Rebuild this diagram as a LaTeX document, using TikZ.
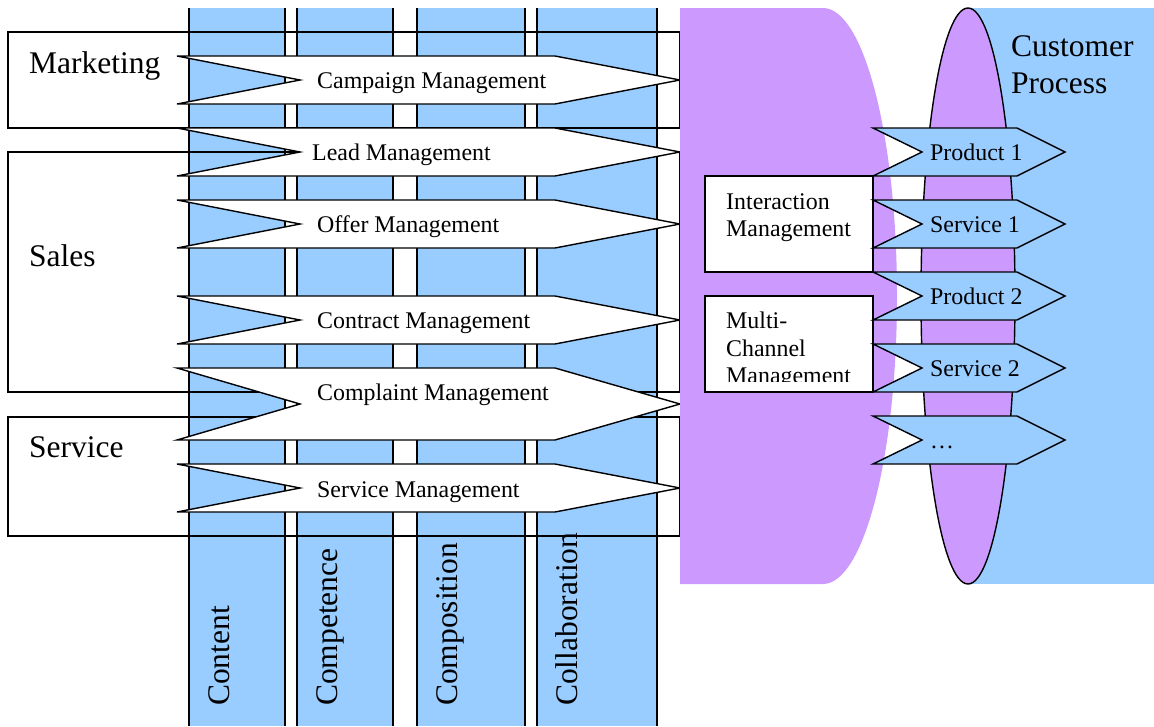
\documentclass[tikz,border=0pt]{standalone}
\usepackage{fontspec}
\setmainfont{Liberation Serif}
\usetikzlibrary{positioning}
\definecolor{colblue}{HTML}{99CCFF}
\definecolor{chanpurple}{HTML}{CC99FF}
\tikzset{rolelabel/.style = {font=\fontsize{31.5}{37.8}\selectfont, inner sep=0pt, anchor=base west, align=left},
         chevlabel/.style = {font=\fontsize{23.9}{27.5}\selectfont, inner sep=0pt, anchor=base west, align=left},
         stroke/.style = {line width=1.4pt},
         procchev/.style = {stroke, draw, fill=white},
         prodchev/.style = {stroke, draw, fill=colblue}}

\begin{document}
\begin{tikzpicture}[x=1pt, y=-1pt]
            \useasboundingbox (0,0) rectangle (1154,726);

            % the four C columns
            \foreach \l/\r/\name in {189/285/Content, 297/393/Competence, 417/525/Composition, 537/657/Collaboration} {
                \fill[colblue] (\l,8) rectangle (\r,726);
                \draw[stroke] (\l,8) -- (\l,726) (\r,8) -- (\r,726);
                \node[rolelabel, rotate=90] (\name) at (\l+40,706) {\name};
            }

            % departments
            \draw[stroke] (8,32) rectangle (680,128);
            \draw[stroke] (8,152) rectangle (680,392);
            \draw[stroke] (8,417) rectangle (680,536);
            \node[rolelabel] (marketing) at (29,73) {Marketing};
            \node[rolelabel] (sales) at (29,266) {Sales};
            \node[rolelabel] (service) at (29,457) {Service};

            % processes
            \foreach \y/\h in {80/24, 152/24, 224/24, 320/24, 404/36, 488/24}
                \draw[procchev] (177,\y-\h) -- (555,\y-\h) -- (680,\y) -- (555,\y+\h) -- (177,\y+\h) -- (300,\y) -- cycle;
            \node[chevlabel] (campaign) at (317,88) {Campaign Management};
            \node[chevlabel] (lead) at (312,160) {Lead Management};
            \node[chevlabel] (offer) at (317,232) {Offer Management};
            \node[chevlabel] (contract) at (317,328) {Contract Management};
            \node[chevlabel] (complaint) at (317,400) {Complaint Management};
            \node[chevlabel] (servmgmt) at (317,497) {Service Management};

            % channel layer and customer side
            \fill[chanpurple] (680,8) -- (823,8) arc[start angle=-90, end angle=90, x radius=74, y radius=288] -- (680,584) -- cycle;
            \fill[colblue] (972,8) rectangle (1154,584);
            \draw[stroke, fill=chanpurple] (968,296) ellipse [x radius=47, y radius=288];
            \node[rolelabel, anchor=north west] (custproc) at (1011,35) {Customer\\Process};

            \draw[stroke, fill=white] (705,176) rectangle (873,272);
            \node[chevlabel, anchor=north west] (interaction) at (726,193) {Interaction\\Management};
            \draw[stroke, fill=white] (705,296) rectangle (873,392);
            \begin{scope}
                \clip (705,296) rectangle (873,381);
                \node[chevlabel, anchor=north west] (multichannel) at (726,312) {Multi-\\Channel\\Management};
            \end{scope}

            % products and services
            \foreach \y in {152, 224, 296, 368, 440}
                \draw[prodchev] (873,\y-24) -- (1017,\y-24) -- (1065,\y) -- (1017,\y+24) -- (873,\y+24) -- (922,\y) -- cycle;
            \node[chevlabel] (product1) at (930,160) {Product 1};
            \node[chevlabel] (service1) at (930,232) {Service 1};
            \node[chevlabel] (product2) at (930,304) {Product 2};
            \node[chevlabel] (service2) at (930,376) {Service 2};
            \node[chevlabel] (more) at (930,448) {…};
\end{tikzpicture}
\end{document}
